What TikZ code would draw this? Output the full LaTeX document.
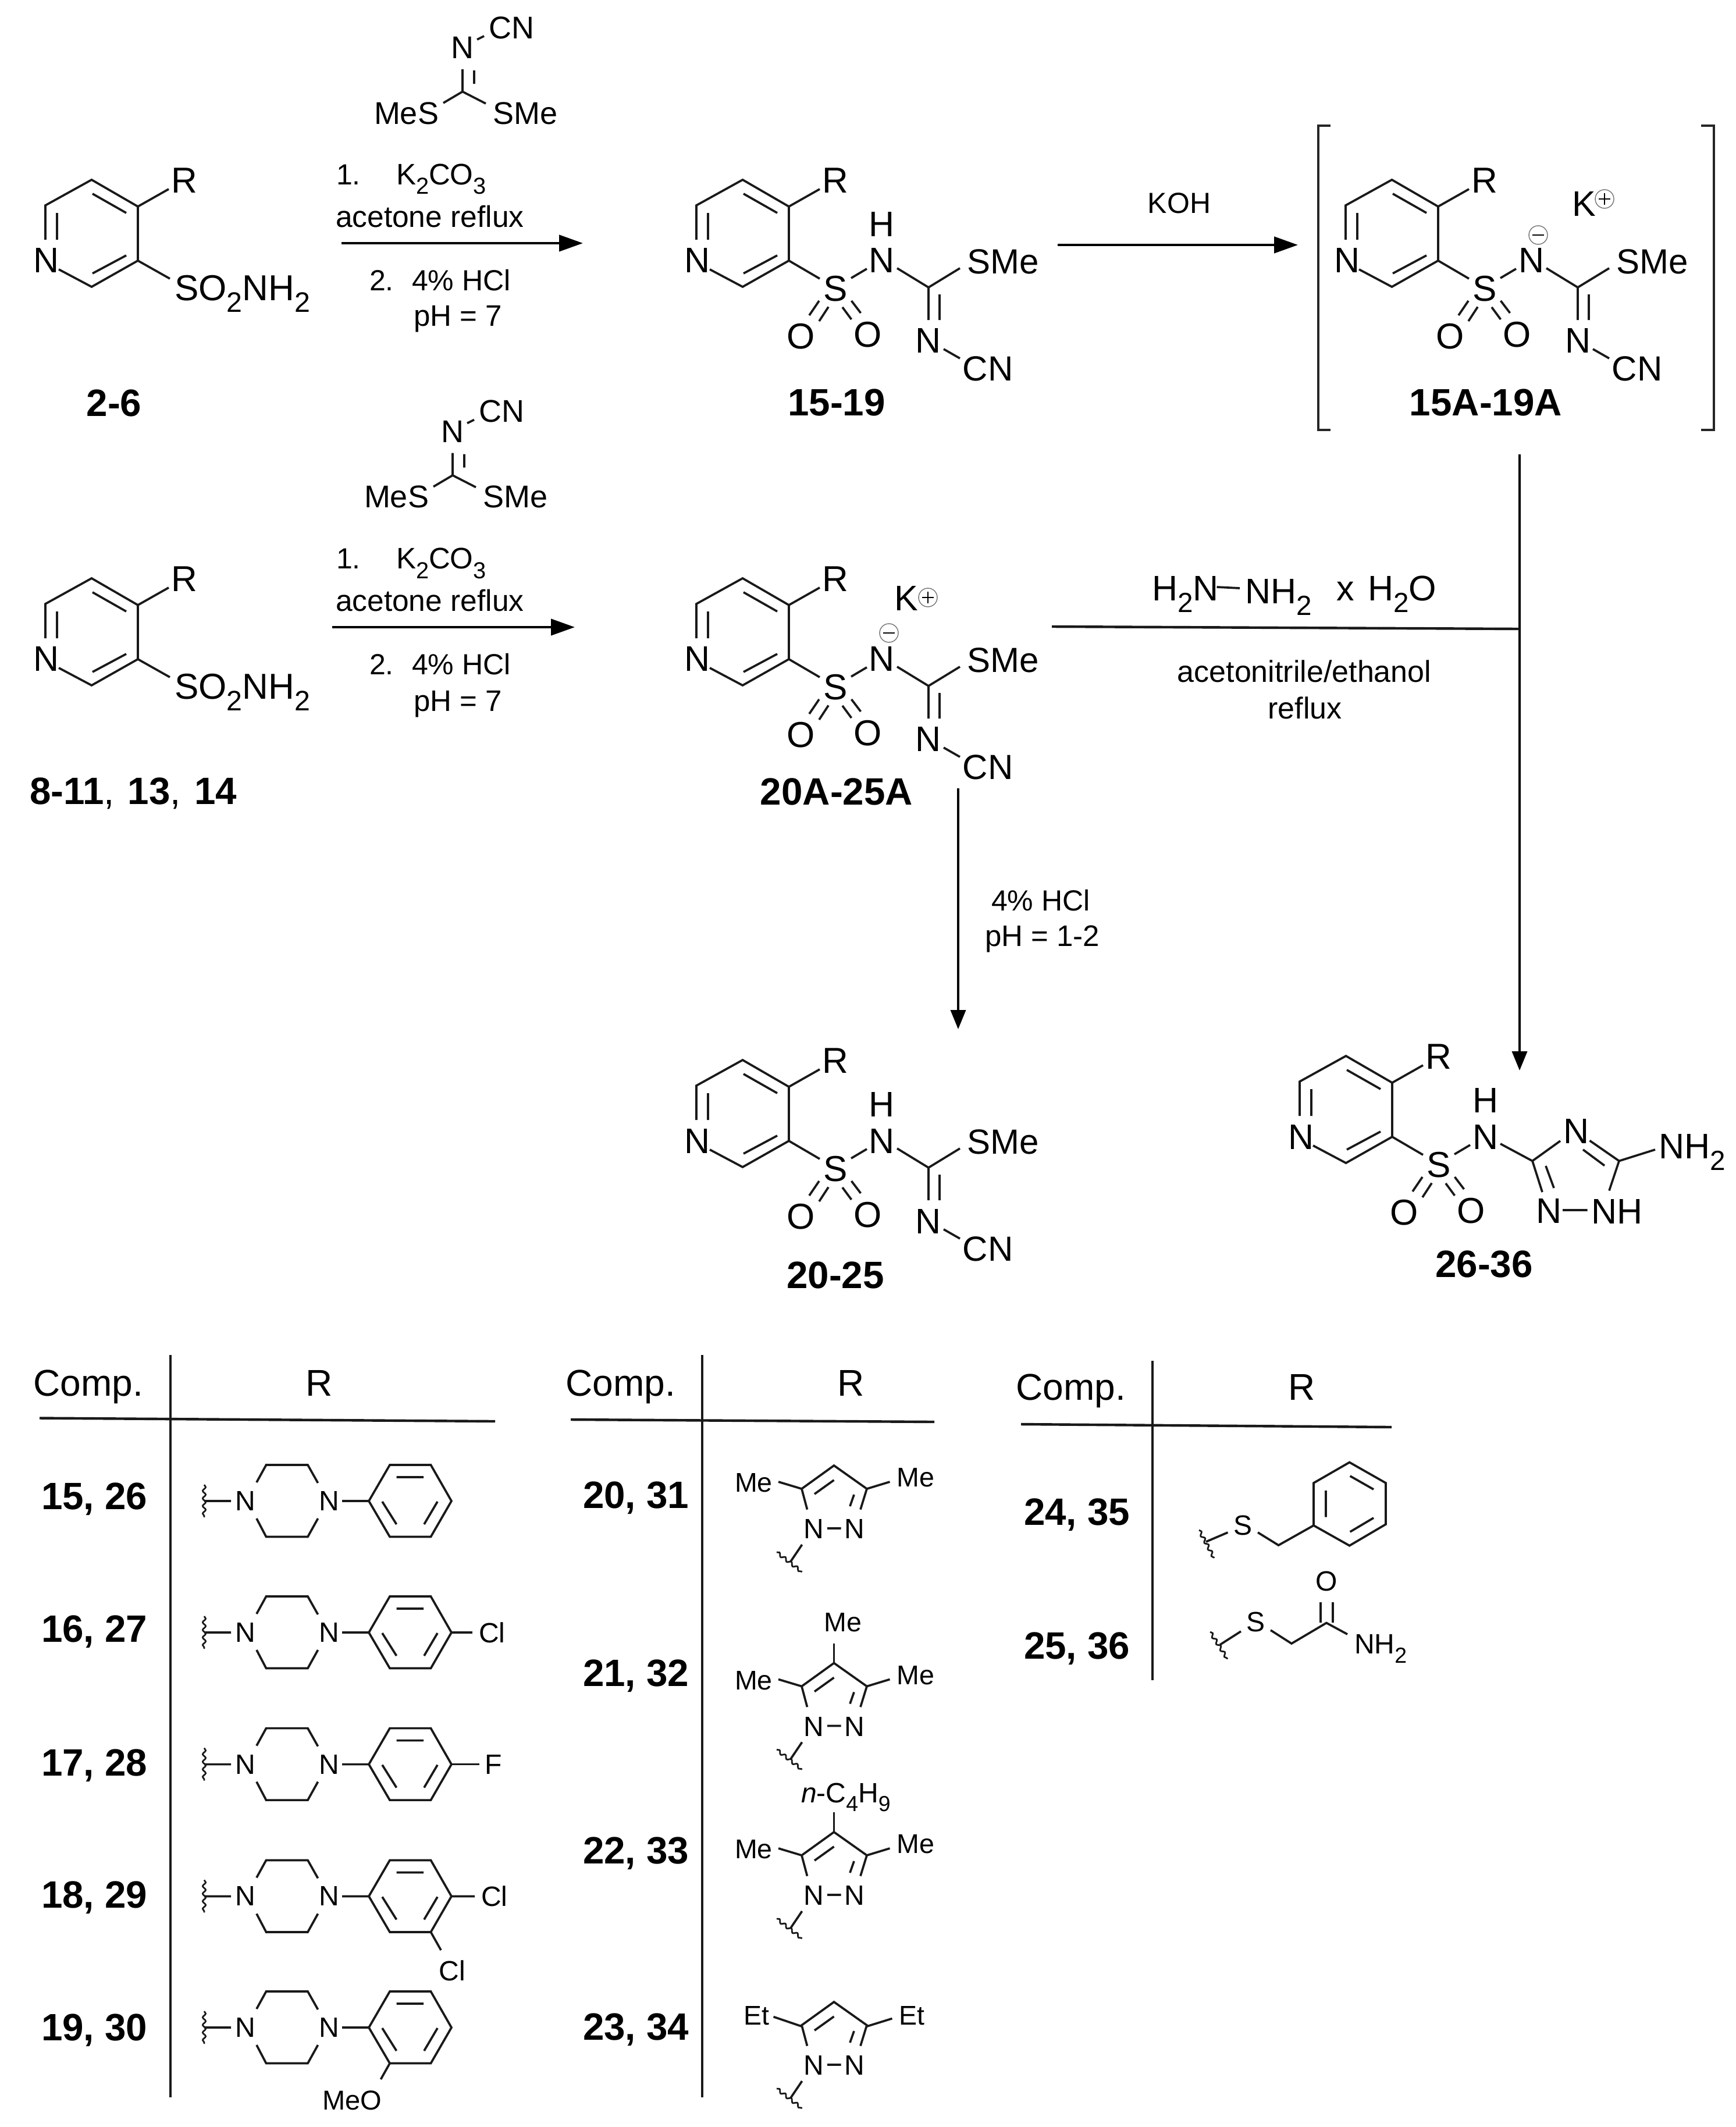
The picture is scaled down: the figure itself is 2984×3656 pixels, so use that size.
\documentclass[tikz,border=0pt]{standalone}
\usepackage{fontspec}
\setmainfont{Liberation Sans}
\usetikzlibrary{arrows.meta,decorations.pathmorphing}
\newcount\labelno
\newcommand\fs[1]{\fontsize{#1}{#1}\selectfont}
\newcommand\subs[1]{\raisebox{-.33em}{\scalebox{.78}{#1}}}
% text helpers: position, anchor, size, text
\newcommand\tx[5][]{\global\advance\labelno by 1
  \node[lbl,anchor=#3,#1] (t\the\labelno) at (#2) {\fs{#4}#5};}
\newcommand\bd[4]{\tx{#1,#2}{#3}{65.5}{\bfseries #4}}
\newcommand\chg[3]{\draw[chgring] (#1,#2) circle[radius=16];
  \draw[chgmark] (#1-10,#2)--(#1+10,#2);
  \ifnum#3=1 \draw[chgmark] (#1,#2-10)--(#1,#2+10);\fi}
\newcommand\pyr{%
  \draw[bond] (-159,57)--(-159,-2)--(-79.5,-46)--(0,0)--(0,93)--(-79.5,138)--(-136,108);
  \draw[bond] (-139,11)--(-139,57) (-78,-22)--(-20,11) (-78,115)--(-20,84) (0,0)--(53,-30);
  \tx{-157,93}{center}{61}{N}\tx{80,-45}{center}{62}{R}}
\newcommand\sulf{%
  \draw[bond] (0,93)--(53,124) (107,123)--(134,107)
    (52,162)--(35,187) (68,172.5)--(52,197) (92,173)--(107.5,194) (107.5,162)--(123.5,183);
  \tx{80,141}{center}{62}{S}\tx{160,93}{center}{61}{N}
  \tx{21,223}{center}{62}{O}\tx{136,220}{center}{62}{O}}
\newcommand\guan{%
  \draw[bond] (186,106)--(240,139)--(294,106) (240,139)--(240,195) (259,151)--(259,195) (266,245)--(294,261);
  \tx{306.5,115}{base west}{60}{SMe}\tx{240,231}{center}{61}{N}\tx{342,279}{center}{60}{CN}}
\newcommand\amine{\draw[bond] (0,93)--(55,124);
  \tx{63,161}{base west}{62}{SO\subs{2}NH\subs{2}}}
\newcommand\dms{%
  \draw[bond] (25,-89.5)--(37,-95.5) (0,0)--(0,-38.5) (20,-13.5)--(20,-36.5) (0,0)--(-33,19.5) (0,0)--(40,20.5);
  \tx{0,-75.5}{center}{54}{N}\tx{84,-110}{center}{54}{CN}
  \tx{-152,55.5}{base west}{54}{MeS}\tx{52,55.5}{base west}{54}{SMe}}
\newcommand\pip{%
  \draw[wav] (351,-28)--(351,28);
  \draw[bond] (351,0)--(397,0) (588,0)--(634,0)
   (441,-32)--(457.5,-62)--(529,-62)--(546.5,-31)
   (441,30)--(457.5,61.5)--(529,61.5)--(546.5,30)
   (634,0)--(670,-62)--(740.5,-62)--(776,0)--(740.5,61.5)--(670,61.5)--cycle
   (681.5,-41)--(728,-41) (657,1)--(681.5,40) (752,1)--(729,40);
  \tx{422,0}{center}{48}{N}\tx{565.5,0}{center}{48}{N}}
\newcommand\pyz{%
  \draw[bond] (1387.5,2594.6)--(1378,2559)--(1433.5,2519)--(1490,2559)--(1479,2594.6)
   (1400,2568)--(1433.5,2544) (1468,2569)--(1461,2589) (1422,2627)--(1445.5,2627) (1378.6,2655)--(1359,2684);
  \draw[wav] (1335,2668)--(1378.6,2702);
  \tx{1398.7,2628}{center}{48}{N}\tx{1469,2628}{center}{48}{N}}
\newcommand\pyzme{%
  \draw[bond] (1338,2547)--(1378,2559) (1490,2559)--(1529.5,2547);
  \tx{1295.5,2549}{center}{46.5}{Me}\tx{1574,2540}{center}{46.5}{Me}}
\begin{document}
\begin{tikzpicture}[x=1pt,y=-1pt,
  lbl/.style={inner sep=0pt,outer sep=0pt,text=black},
  bond/.style={line width=3.7pt,line join=miter,black!90},
  rule/.style={line width=4.4pt,black!90},
  wav/.style={line width=2.8pt,black!90,decorate,decoration={snake,amplitude=2.6pt,segment length=13pt}},
  chgring/.style={line width=1.4pt,black!55},
  chgmark/.style={line width=2.2pt,black},
  react/.style={line width=4.4pt,black,-{Triangle[length=41pt,width=28pt]}},
  brk/.style={line width=4pt,black!85}]
\useasboundingbox (0,0) rectangle (2984,3656);
% ---------- starting materials
\begin{scope}[shift={(237,355)}]\pyr\amine\end{scope}
\begin{scope}[shift={(237,1040)}]\pyr\amine\end{scope}
\tx{196,715}{base}{65.5}{\bfseries 2-6}
\tx{51,1382}{base west}{65.5}{\textbf{8-11},\hspace{5pt} \textbf{13},\hspace{5pt} \textbf{14}}
% ---------- reagents
\begin{scope}[shift={(795,157.5)}]\dms\end{scope}
\begin{scope}[shift={(778,817)}]\dms\end{scope}
\tx{578,317}{base west}{50}{1.}\tx{681,317}{base west}{51}{K\subs{2}CO\subs{3}}
\tx{577,390}{base west}{51.5}{acetone reflux}
\tx{635,499}{base west}{50}{2.}\tx{708,499}{base west}{50}{4\% HCl}
\tx{711,560}{base west}{51}{pH = 7}
\tx{578,977.5}{base west}{50}{1.}\tx{681,977.5}{base west}{51}{K\subs{2}CO\subs{3}}
\tx{577,1050}{base west}{51.5}{acetone reflux}
\tx{635,1159}{base west}{50}{2.}\tx{708,1159}{base west}{50}{4\% HCl}
\tx{711,1222}{base west}{51}{pH = 7}
% ---------- arrows
\coordinate (a1s) at (587,418);\coordinate (a1e) at (1002,418);
\coordinate (a2s) at (571,1078);\coordinate (a2e) at (988,1078);
\coordinate (a3s) at (1817.5,421);\coordinate (a3e) at (2231,421);
\coordinate (a4s) at (2612,781);\coordinate (a4e) at (2612,1840);
\coordinate (a5s) at (1647,1355);\coordinate (a5e) at (1647,1769);
\coordinate (j1) at (1808,1077);\coordinate (j2) at (2612,1081);
\draw[react] (a1s)--(a1e);
\draw[react] (a2s)--(a2e);
\draw[react] (a3s)--(a3e);
\draw[react,line width=3.6pt,-{Triangle[length=33pt,width=26pt]}] (a4s)--(a4e);
\draw[react,line width=3.6pt,-{Triangle[length=33pt,width=26pt]}] (a5s)--(a5e);
\draw[rule] (j1)--(j2);
\tx{2027,349.5}{center}{50}{KOH}
% ---------- 15-19
\begin{scope}[shift={(1356,355)}]\pyr\sulf\guan\tx{160,30.5}{center}{61}{H}\end{scope}
\tx{1438,714}{base}{65.5}{\bfseries 15-19}
% ---------- 15A-19A
\begin{scope}[shift={(2472,355)}]\pyr\sulf\guan\end{scope}
\tx{2723,351}{center}{61}{K}\chg{2758}{342}{1}\chg{2644}{404}{0}
\tx{2554,714}{base}{65.5}{\bfseries 15A-19A}
\draw[brk] (2287,216)--(2266,216)--(2266,739)--(2287,739);
\draw[brk] (2924,216)--(2945.5,216)--(2945.5,739)--(2924,739);
% ---------- 20A-25A
\begin{scope}[shift={(1356,1040)}]\pyr\sulf\guan\end{scope}
\tx{1558,1028.5}{center}{61}{K}\chg{1595}{1027}{1}\chg{1528}{1088}{0}
\tx{1438,1383}{base}{65.5}{\bfseries 20A-25A}
% ---------- hydrazine
\tx{1980,1032}{base west}{61}{H\subs{2}N}
\draw[bond] (2091.5,1009)--(2131,1011);
\tx{2140,1037}{base west}{61}{NH\subs{2}}
\tx{2297,1032}{base west}{61}{x}
\tx{2351,1032}{base west}{61}{H\subs{2}O}
\tx{2242,1172}{base}{52}{acetonitrile/ethanol}
\tx{2243,1235}{base}{52}{reflux}
% ---------- 4% HCl
\tx{1704,1565}{base west}{50}{4\% HCl}
\tx{1693,1626.5}{base west}{51}{pH = 1-2}
% ---------- 20-25
\begin{scope}[shift={(1356,1868)}]\pyr\sulf\guan\tx{160,30.5}{center}{61}{H}\end{scope}
\tx{1436,2214}{base}{65.5}{\bfseries 20-25}
% ---------- 26-36
\begin{scope}[shift={(2393,1861)}]\pyr\sulf\tx{160,30}{center}{61}{H}\end{scope}
\draw[bond] (2579,1966)--(2634,1995.5)--(2682,1961) (2732.5,1960.5)--(2783,1995.5)--(2845,1976)
  (2721,1976)--(2758,2003.5) (2783,1995.5)--(2766,2046.5) (2634,1995.5)--(2651,2049)
  (2657,2004)--(2671,2042) (2686,2080)--(2728.5,2080);
\tx{2709,1944.5}{center}{61}{N}\tx{2662,2081.6}{center}{61}{N}
\tx{2735,2103}{base west}{61}{NH}\tx{2851,1991}{base west}{61}{NH\subs{2}}
\tx{2551,2195}{base}{65.5}{\bfseries 26-36}
% ---------- table 1
\draw[rule] (293,2329)--(293,3604.6);\draw[rule] (68,2437.5)--(851,2443);
\tx{152,2399}{base}{64}{Comp.}\tx{549,2399}{base}{64}{R}
\bd{71}{2594}{base west}{15, 26}\bd{71}{2822}{base west}{16, 27}\bd{71}{3052}{base west}{17, 28}
\bd{71}{3279}{base west}{18, 29}\bd{71}{3507}{base west}{19, 30}
\begin{scope}[shift={(0,2580)}]\pip\end{scope}
\begin{scope}[shift={(0,2806)}]\pip\draw[bond] (776,0)--(812,0);\tx{823,0}{west}{48}{Cl}\end{scope}
\begin{scope}[shift={(0,3032.6)}]\pip\draw[bond] (776,0)--(824,0);\tx{848,0}{center}{48}{F}\end{scope}
\begin{scope}[shift={(0,3259.4)}]\pip\draw[bond] (776,0)--(816,0) (740.5,61.5)--(758,92.6);
  \tx{827,0}{west}{48}{Cl}\tx{754.6,127.6}{west}{48}{Cl}\end{scope}
\begin{scope}[shift={(0,3485)}]\pip\draw[bond] (670,61.5)--(654.5,89);\tx{605.5,141}{base}{47}{MeO}\end{scope}
% ---------- table 2
\draw[rule] (1207,2329)--(1207,3604.6);\draw[rule] (981,2440)--(1606,2444);
\tx{1067,2399}{base}{64}{Comp.}\tx{1463,2399}{base}{64}{R}
\bd{1002}{2592}{base west}{20, 31}\bd{1002}{2898}{base west}{21, 32}
\bd{1002}{3203}{base west}{22, 33}\bd{1002}{3506}{base west}{23, 34}
\pyz\pyzme
\begin{scope}[shift={(0,339.5)}]\pyz\pyzme\draw[bond] (1433.5,2519)--(1433.5,2485);\tx{1448.6,2449.5}{center}{46.5}{Me}\end{scope}
\begin{scope}[shift={(0,630)}]\pyz\pyzme\draw[bond] (1433.5,2519)--(1433.5,2485);\end{scope}
\tx{1377,3098}{base west}{48}{\textit{n}-C\subs{4}H\subs{9}}
\begin{scope}[shift={(0,922)}]\pyz
  \draw[bond] (1329.5,2544.5)--(1378,2561) (1490,2561)--(1533.5,2547.5);
  \tx{1300,2542.5}{center}{46.5}{Et}\tx{1567.5,2542.5}{center}{46.5}{Et}\end{scope}
% ---------- table 3
\draw[rule] (1981,2339)--(1981,2888);\draw[rule] (1755,2448)--(2392,2453);
\tx{1841,2406}{base}{64}{Comp.}\tx{2238,2406}{base}{64}{R}
\bd{1760}{2621}{base west}{24, 35}\bd{1760}{2851.6}{base west}{25, 36}
\draw[wav] (2061,2630)--(2087,2678);
\draw[bond] (2073,2650)--(2110.5,2634) (2162,2634)--(2197.6,2656)--(2258,2622)
  (2258,2622)--(2258,2549)--(2319.6,2513.5)--(2382,2549)--(2382,2620)--(2319.6,2656.7)--cycle
  (2279,2562)--(2279,2607.6) (2320.6,2537)--(2361,2560) (2320.6,2633)--(2361,2609);
\tx{2136,2622}{center}{48}{S}
\draw[wav] (2080,2805)--(2110,2851.6);
\draw[bond] (2097,2827)--(2133,2804) (2184,2802)--(2220,2825)--(2280,2789.5)--(2316,2809)
  (2270,2754)--(2270,2789) (2291,2754)--(2291,2789);
\tx{2158,2788}{center}{48}{S}\tx{2280,2718}{center}{48}{O}
\tx{2328,2842.5}{base west}{48}{NH\subs{2}}
\end{tikzpicture}
\end{document}
